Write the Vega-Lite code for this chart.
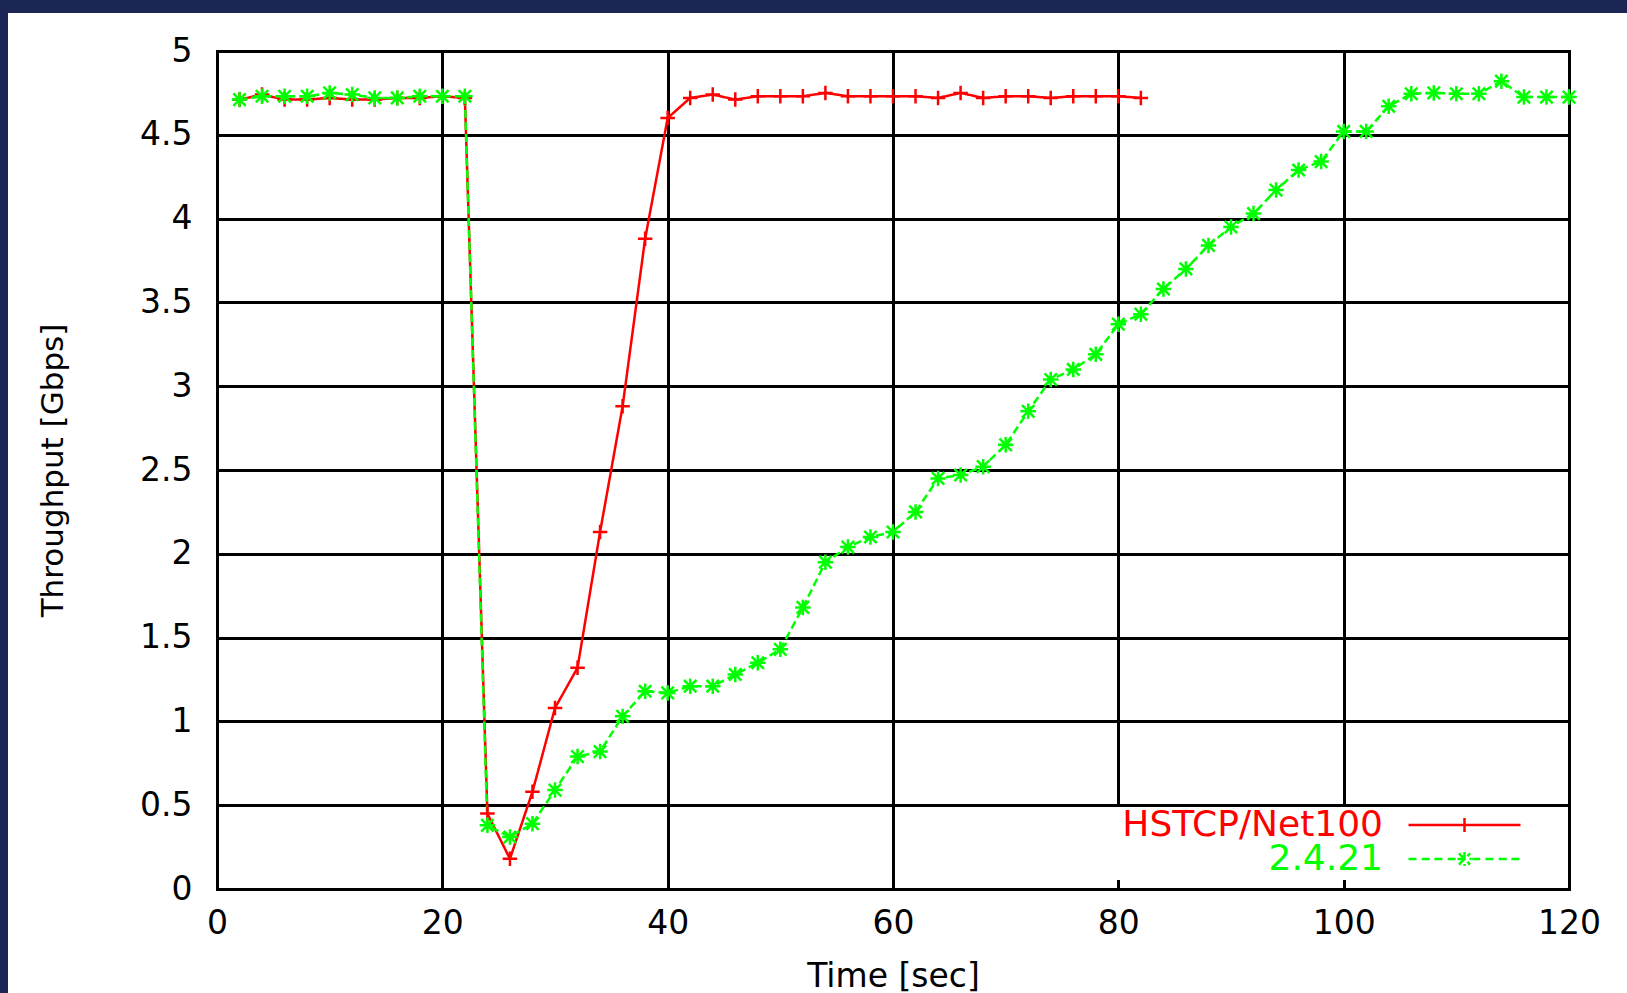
{
  "$schema": "https://vega.github.io/schema/vega-lite/v6.json",
  "width": 1619,
  "height": 980,
  "autosize": {"type": "none"},
  "padding": {"left": 8, "top": 13, "right": 0, "bottom": 0},
  "background": "#1b2654",
  "config": {
    "view": {"fill": "white", "stroke": null},
    "font": "DejaVu Sans"
  },
  "datasets": {
    "throughput": [
      {"series": "HSTCP/Net100", "time": 2, "gbps": 4.71},
      {"series": "HSTCP/Net100", "time": 4, "gbps": 4.74},
      {"series": "HSTCP/Net100", "time": 6, "gbps": 4.71},
      {"series": "HSTCP/Net100", "time": 8, "gbps": 4.71},
      {"series": "HSTCP/Net100", "time": 10, "gbps": 4.72},
      {"series": "HSTCP/Net100", "time": 12, "gbps": 4.71},
      {"series": "HSTCP/Net100", "time": 14, "gbps": 4.71},
      {"series": "HSTCP/Net100", "time": 16, "gbps": 4.72},
      {"series": "HSTCP/Net100", "time": 18, "gbps": 4.72},
      {"series": "HSTCP/Net100", "time": 20, "gbps": 4.73},
      {"series": "HSTCP/Net100", "time": 22, "gbps": 4.72},
      {"series": "HSTCP/Net100", "time": 24, "gbps": 0.45},
      {"series": "HSTCP/Net100", "time": 26, "gbps": 0.18},
      {"series": "HSTCP/Net100", "time": 28, "gbps": 0.58},
      {"series": "HSTCP/Net100", "time": 30, "gbps": 1.08},
      {"series": "HSTCP/Net100", "time": 32, "gbps": 1.32},
      {"series": "HSTCP/Net100", "time": 34, "gbps": 2.13},
      {"series": "HSTCP/Net100", "time": 36, "gbps": 2.88},
      {"series": "HSTCP/Net100", "time": 38, "gbps": 3.88},
      {"series": "HSTCP/Net100", "time": 40, "gbps": 4.6},
      {"series": "HSTCP/Net100", "time": 42, "gbps": 4.72},
      {"series": "HSTCP/Net100", "time": 44, "gbps": 4.74},
      {"series": "HSTCP/Net100", "time": 46, "gbps": 4.71},
      {"series": "HSTCP/Net100", "time": 48, "gbps": 4.73},
      {"series": "HSTCP/Net100", "time": 50, "gbps": 4.73},
      {"series": "HSTCP/Net100", "time": 52, "gbps": 4.73},
      {"series": "HSTCP/Net100", "time": 54, "gbps": 4.75},
      {"series": "HSTCP/Net100", "time": 56, "gbps": 4.73},
      {"series": "HSTCP/Net100", "time": 58, "gbps": 4.73},
      {"series": "HSTCP/Net100", "time": 60, "gbps": 4.73},
      {"series": "HSTCP/Net100", "time": 62, "gbps": 4.73},
      {"series": "HSTCP/Net100", "time": 64, "gbps": 4.72},
      {"series": "HSTCP/Net100", "time": 66, "gbps": 4.75},
      {"series": "HSTCP/Net100", "time": 68, "gbps": 4.72},
      {"series": "HSTCP/Net100", "time": 70, "gbps": 4.73},
      {"series": "HSTCP/Net100", "time": 72, "gbps": 4.73},
      {"series": "HSTCP/Net100", "time": 74, "gbps": 4.72},
      {"series": "HSTCP/Net100", "time": 76, "gbps": 4.73},
      {"series": "HSTCP/Net100", "time": 78, "gbps": 4.73},
      {"series": "HSTCP/Net100", "time": 80, "gbps": 4.73},
      {"series": "HSTCP/Net100", "time": 82, "gbps": 4.72},
      {"series": "2.4.21", "time": 2, "gbps": 4.71},
      {"series": "2.4.21", "time": 4, "gbps": 4.73},
      {"series": "2.4.21", "time": 6, "gbps": 4.73},
      {"series": "2.4.21", "time": 8, "gbps": 4.73},
      {"series": "2.4.21", "time": 10, "gbps": 4.75},
      {"series": "2.4.21", "time": 12, "gbps": 4.74},
      {"series": "2.4.21", "time": 14, "gbps": 4.72},
      {"series": "2.4.21", "time": 16, "gbps": 4.72},
      {"series": "2.4.21", "time": 18, "gbps": 4.73},
      {"series": "2.4.21", "time": 20, "gbps": 4.73},
      {"series": "2.4.21", "time": 22, "gbps": 4.73},
      {"series": "2.4.21", "time": 24, "gbps": 0.38},
      {"series": "2.4.21", "time": 26, "gbps": 0.31},
      {"series": "2.4.21", "time": 28, "gbps": 0.39},
      {"series": "2.4.21", "time": 30, "gbps": 0.59},
      {"series": "2.4.21", "time": 32, "gbps": 0.79},
      {"series": "2.4.21", "time": 34, "gbps": 0.82},
      {"series": "2.4.21", "time": 36, "gbps": 1.03},
      {"series": "2.4.21", "time": 38, "gbps": 1.18},
      {"series": "2.4.21", "time": 40, "gbps": 1.17},
      {"series": "2.4.21", "time": 42, "gbps": 1.21},
      {"series": "2.4.21", "time": 44, "gbps": 1.21},
      {"series": "2.4.21", "time": 46, "gbps": 1.28},
      {"series": "2.4.21", "time": 48, "gbps": 1.35},
      {"series": "2.4.21", "time": 50, "gbps": 1.43},
      {"series": "2.4.21", "time": 52, "gbps": 1.68},
      {"series": "2.4.21", "time": 54, "gbps": 1.95},
      {"series": "2.4.21", "time": 56, "gbps": 2.04},
      {"series": "2.4.21", "time": 58, "gbps": 2.1},
      {"series": "2.4.21", "time": 60, "gbps": 2.13},
      {"series": "2.4.21", "time": 62, "gbps": 2.25},
      {"series": "2.4.21", "time": 64, "gbps": 2.45},
      {"series": "2.4.21", "time": 66, "gbps": 2.47},
      {"series": "2.4.21", "time": 68, "gbps": 2.52},
      {"series": "2.4.21", "time": 70, "gbps": 2.65},
      {"series": "2.4.21", "time": 72, "gbps": 2.85},
      {"series": "2.4.21", "time": 74, "gbps": 3.04},
      {"series": "2.4.21", "time": 76, "gbps": 3.1},
      {"series": "2.4.21", "time": 78, "gbps": 3.19},
      {"series": "2.4.21", "time": 80, "gbps": 3.37},
      {"series": "2.4.21", "time": 82, "gbps": 3.43},
      {"series": "2.4.21", "time": 84, "gbps": 3.58},
      {"series": "2.4.21", "time": 86, "gbps": 3.7},
      {"series": "2.4.21", "time": 88, "gbps": 3.84},
      {"series": "2.4.21", "time": 90, "gbps": 3.95},
      {"series": "2.4.21", "time": 92, "gbps": 4.03},
      {"series": "2.4.21", "time": 94, "gbps": 4.17},
      {"series": "2.4.21", "time": 96, "gbps": 4.29},
      {"series": "2.4.21", "time": 98, "gbps": 4.34},
      {"series": "2.4.21", "time": 100, "gbps": 4.52},
      {"series": "2.4.21", "time": 102, "gbps": 4.52},
      {"series": "2.4.21", "time": 104, "gbps": 4.67},
      {"series": "2.4.21", "time": 106, "gbps": 4.745},
      {"series": "2.4.21", "time": 108, "gbps": 4.75},
      {"series": "2.4.21", "time": 110, "gbps": 4.745},
      {"series": "2.4.21", "time": 112, "gbps": 4.745},
      {"series": "2.4.21", "time": 114, "gbps": 4.82},
      {"series": "2.4.21", "time": 116, "gbps": 4.725},
      {"series": "2.4.21", "time": 118, "gbps": 4.725},
      {"series": "2.4.21", "time": 120, "gbps": 4.725}
    ]
  },
  "data": {"name": "throughput"},
  "encoding": {
    "x": {
      "field": "time",
      "type": "quantitative",
      "scale": {"domain": [0, 120], "range": [209, 1561], "nice": false, "zero": false},
      "axis": {
        "orient": "top",
        "offset": -876,
        "values": [0, 20, 40, 60, 80, 100, 120],
        "domain": false,
        "ticks": false,
        "tickSize": 0,
        "grid": true,
        "gridColor": "#000000",
        "gridWidth": 3,
        "gridOpacity": 1,
        "gridCap": "square",
        "labelFont": "DejaVu Sans",
        "labelFontSize": 33,
        "labelColor": "#000000",
        "labelPadding": -34,
        "labelBaseline": "middle",
        "labelFlush": false,
        "labelOverlap": false,
        "labelBound": false,
        "title": "Time [sec]",
        "titleFont": "DejaVu Sans",
        "titleFontSize": 33,
        "titleFontWeight": "normal",
        "titleColor": "#000000",
        "titleBaseline": "middle",
        "titleY": 87
      }
    },
    "y": {
      "field": "gbps",
      "type": "quantitative",
      "scale": {"domain": [0, 5], "range": [876, 38], "nice": false, "zero": false},
      "axis": {
        "orient": "left",
        "offset": -209,
        "values": [0, 0.5, 1, 1.5, 2, 2.5, 3, 3.5, 4, 4.5, 5],
        "format": "~g",
        "domain": false,
        "ticks": false,
        "tickSize": 0,
        "grid": true,
        "gridColor": "#000000",
        "gridWidth": 3,
        "gridOpacity": 1,
        "gridCap": "square",
        "labelFont": "DejaVu Sans",
        "labelFontSize": 33,
        "labelColor": "#000000",
        "labelPadding": 25,
        "labelBaseline": "middle",
        "labelFlush": false,
        "labelOverlap": false,
        "labelBound": false,
        "title": "Throughput [Gbps]",
        "titleFont": "DejaVu Sans",
        "titleFontSize": 31,
        "titleFontWeight": "normal",
        "titleColor": "#000000",
        "titleBaseline": "middle",
        "titleAngle": -90,
        "titleX": -164,
        "titleY": 457
      }
    }
  },
  "layer": [
    {
      "mark": {"type": "line", "strokeWidth": 2.5},
      "encoding": {
        "color": {
          "field": "series",
          "type": "nominal",
          "scale": {"domain": ["HSTCP/Net100", "2.4.21"], "range": ["#ff0000", "#00ff00"]},
          "legend": {
            "orient": "none",
            "legendX": 1092,
            "legendY": 794,
            "title": null,
            "direction": "vertical",
            "fillColor": "white",
            "padding": 3,
            "rowPadding": -2,
            "labelFont": "DejaVu Sans",
            "labelFontSize": 36,
            "labelLimit": 500,
            "labelBaseline": "middle",
            "symbolSize": 196,
            "symbolStrokeWidth": 2.5,
            "encode": {
              "labels": {
                "update": {
                  "x": {"value": 280},
                  "y": {"value": 15},
                  "align": {"value": "right"},
                  "fill": {"signal": "datum.value === 'HSTCP/Net100' ? '#ff0000' : '#00ff00'"}
                }
              },
              "symbols": {
                "update": {
                  "x": {"value": 361.5},
                  "y": {"value": 15},
                  "shape": {"signal": "datum.value === 'HSTCP/Net100' ? 'M-8,0H8M0,-1V1' : 'M-8,0H-6.7M-6.1,0H-4.9M-4.3,0H-3M-2.4,0H-1.1M1.1,0H2.4M3,0H4.3M4.9,0H6.1M6.7,0H8M-1,0H1M0,-1V1M-0.8,-0.8L0.8,0.8M-0.8,0.8L0.8,-0.8'"},
                  "stroke": {"signal": "datum.value === 'HSTCP/Net100' ? '#ff0000' : '#00ff00'"},
                  "fill": {"value": "transparent"},
                  "strokeWidth": {"value": 2.5},
                  "strokeDash": {"value": [1, 0]},
                  "opacity": {"value": 1}
                }
              }
            }
          }
        },
        "strokeDash": {
          "field": "series",
          "type": "nominal",
          "scale": {"domain": ["HSTCP/Net100", "2.4.21"], "range": [[1, 0], [8, 4]]},
          "legend": null
        }
      }
    },
    {
      "transform": [{"filter": "datum.series === 'HSTCP/Net100'"}],
      "mark": {"type": "point", "filled": false, "strokeWidth": 2.5, "size": 210, "opacity": 1, "color": "#ff0000", "shape": "M-1,0H1M0,-1V1"}
    },
    {
      "transform": [{"filter": "datum.series === '2.4.21'"}],
      "mark": {"type": "point", "filled": false, "strokeWidth": 2.5, "size": 240, "opacity": 1, "color": "#00ff00", "shape": "M-1,0H1M0,-1V1M-0.8,-0.8L0.8,0.8M-0.8,0.8L0.8,-0.8"}
    }
  ]
}
